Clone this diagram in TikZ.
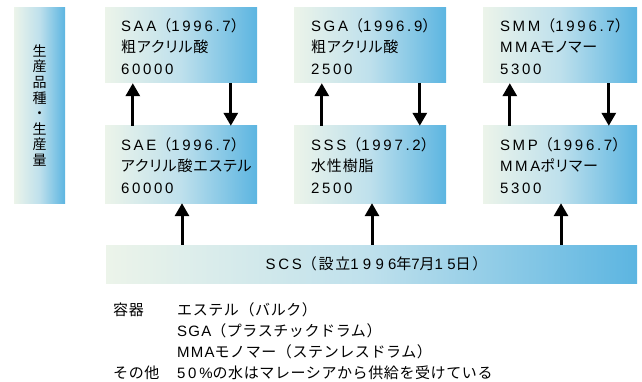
\documentclass[tikz,border=0pt]{standalone}
\usepackage{fontspec}
\setmainfont{Noto Sans CJK JP}[LetterSpace=4]
\newfontfamily\latf{Liberation Sans}[LetterSpace=18]
\newfontfamily\latn{Liberation Sans}[LetterSpace=8]
\newfontfamily\lats{Liberation Sans}[LetterSpace=28]
\newfontfamily\jps{Noto Sans CJK JP}[LetterSpace=12]
\newfontfamily\jpp{Noto Sans CJK JP}[RawFeature=+palt,LetterSpace=6]
\newcommand\la[1]{{\latf #1}}
\newcommand\lnote[1]{{\latn #1}}
\newcommand\lscs[1]{{\lats #1}}
\newcommand\lp{{\normalfont （}}
\newcommand\rp{{\normalfont ）}}
\usetikzlibrary{arrows.meta}
\definecolor{gl}{RGB}{236,244,234}
\definecolor{gm}{RGB}{190,224,236}
\definecolor{gr}{RGB}{92,181,225}
\tikzset{
  gbox/.style={inner sep=0pt, draw=none, left color=gl, right color=gr, middle color=gm},
  btext/.style={inner sep=0pt, anchor=west, align=left, font=\jpp\fontsize{15}{21.5}\selectfont},
  ntext/.style={inner sep=0pt, anchor=base west, font=\fontsize{15}{21}\selectfont},
  arr/.style={line width=3pt, -{Triangle[width=14pt,length=13pt]}},
}
\begin{document}
\begin{tikzpicture}[x=1pt,y=-1pt]
\useasboundingbox (0,0) rectangle (642,382);
% side label
\node[gbox, minimum width=51pt, minimum height=195pt] (side) at (39.5,105.5) {};
\node[inner sep=0pt, align=center, font=\fontsize{14}{15.6}\selectfont] (sidet) at (side) {生\\産\\品\\種\\・\\生\\産\\量};
% top row
\node[gbox, minimum width=152pt, minimum height=75pt] (a1) at (181,45.5) {};
\node[gbox, minimum width=152pt, minimum height=75pt] (a2) at (370,45.5) {};
\node[gbox, minimum width=154pt, minimum height=75pt] (a3) at (560,45.5) {};
% bottom row
\node[gbox, minimum width=152pt, minimum height=77pt] (e1) at (181,164.5) {};
\node[gbox, minimum width=152pt, minimum height=77pt] (e2) at (370,164.5) {};
\node[gbox, minimum width=154pt, minimum height=77pt] (e3) at (560,164.5) {};
% SCS
\node[gbox, minimum width=531pt, minimum height=38pt] (scs) at (371.5,264) {};
\node[inner sep=0pt, font=\jps\fontsize{15}{18}\selectfont] (scst) at ([xshift=5pt]scs.center) {\la{SCS}（設立\lscs{1996}年\lscs{7}月\lscs{15}日）};
% box texts
\node[btext] (ta1) at ([xshift=16pt,yshift=-1pt]a1.west) {\la{SAA}\lp\la{1996.7}\rp\\粗アクリル酸\\\la{60000}};
\node[btext] (ta2) at ([xshift=17pt,yshift=-1pt]a2.west) {\la{SGA}\lp\la{1996.9}\rp\\粗アクリル酸\\\la{2500}};
\node[btext] (ta3) at ([xshift=17pt,yshift=-1pt]a3.west) {\la{SMM}\lp\la{1996.7}\rp\\\la{MMA}モノマー\\\la{5300}};
\node[btext] (te1) at ([xshift=16pt,yshift=-1pt]e1.west) {\la{SAE}\lp\la{1996.7}\rp\\アクリル酸エステル\\\la{60000}};
\node[btext] (te2) at ([xshift=17pt,yshift=-1pt]e2.west) {\la{SSS}\lp\la{1997.2}\rp\\水性樹脂\\\la{2500}};
\node[btext] (te3) at ([xshift=17pt,yshift=-1pt]e3.west) {\la{SMP}\lp\la{1996.7}\rp\\\la{MMA}ポリマー\\\la{5300}};
% arrows between rows
\draw[arr] ([xshift=28pt]e1.north west) -- ([xshift=28pt]a1.south west);
\draw[arr] ([xshift=126pt]a1.south west) -- ([xshift=126pt]e1.north west);
\draw[arr] ([xshift=28pt]e2.north west) -- ([xshift=28pt]a2.south west);
\draw[arr] ([xshift=126pt]a2.south west) -- ([xshift=126pt]e2.north west);
\draw[arr] ([xshift=27pt]e3.north west) -- ([xshift=27pt]a3.south west);
\draw[arr] ([xshift=126pt]a3.south west) -- ([xshift=126pt]e3.north west);
% arrows from SCS
\coordinate (c1) at ([xshift=1pt]e1.south);
\coordinate (c2) at ([xshift=2pt]e2.south);
\coordinate (c3) at ([xshift=1pt]e3.south);
\draw[arr] (c1 |- scs.north) -- (c1);
\draw[arr] (c2 |- scs.north) -- (c2);
\draw[arr] (c3 |- scs.north) -- (c3);
% notes
\node[ntext] (n1) at (113,315.5) {容器};
\node[ntext] (n2) at (177,315.5) {エステル（バルク）};
\node[ntext] (n3) at (177,336.5) {\lnote{SGA}（プラスチックドラム）};
\node[ntext] (n4) at (177,357.5) {\lnote{MMA}モノマー（ステンレスドラム）};
\node[ntext] (n5) at (113,378.5) {その他};
\node[ntext] (n6) at (177,378.5) {{\latf 50\%}の水はマレーシアから供給を受けている};
\end{tikzpicture}
\end{document}
